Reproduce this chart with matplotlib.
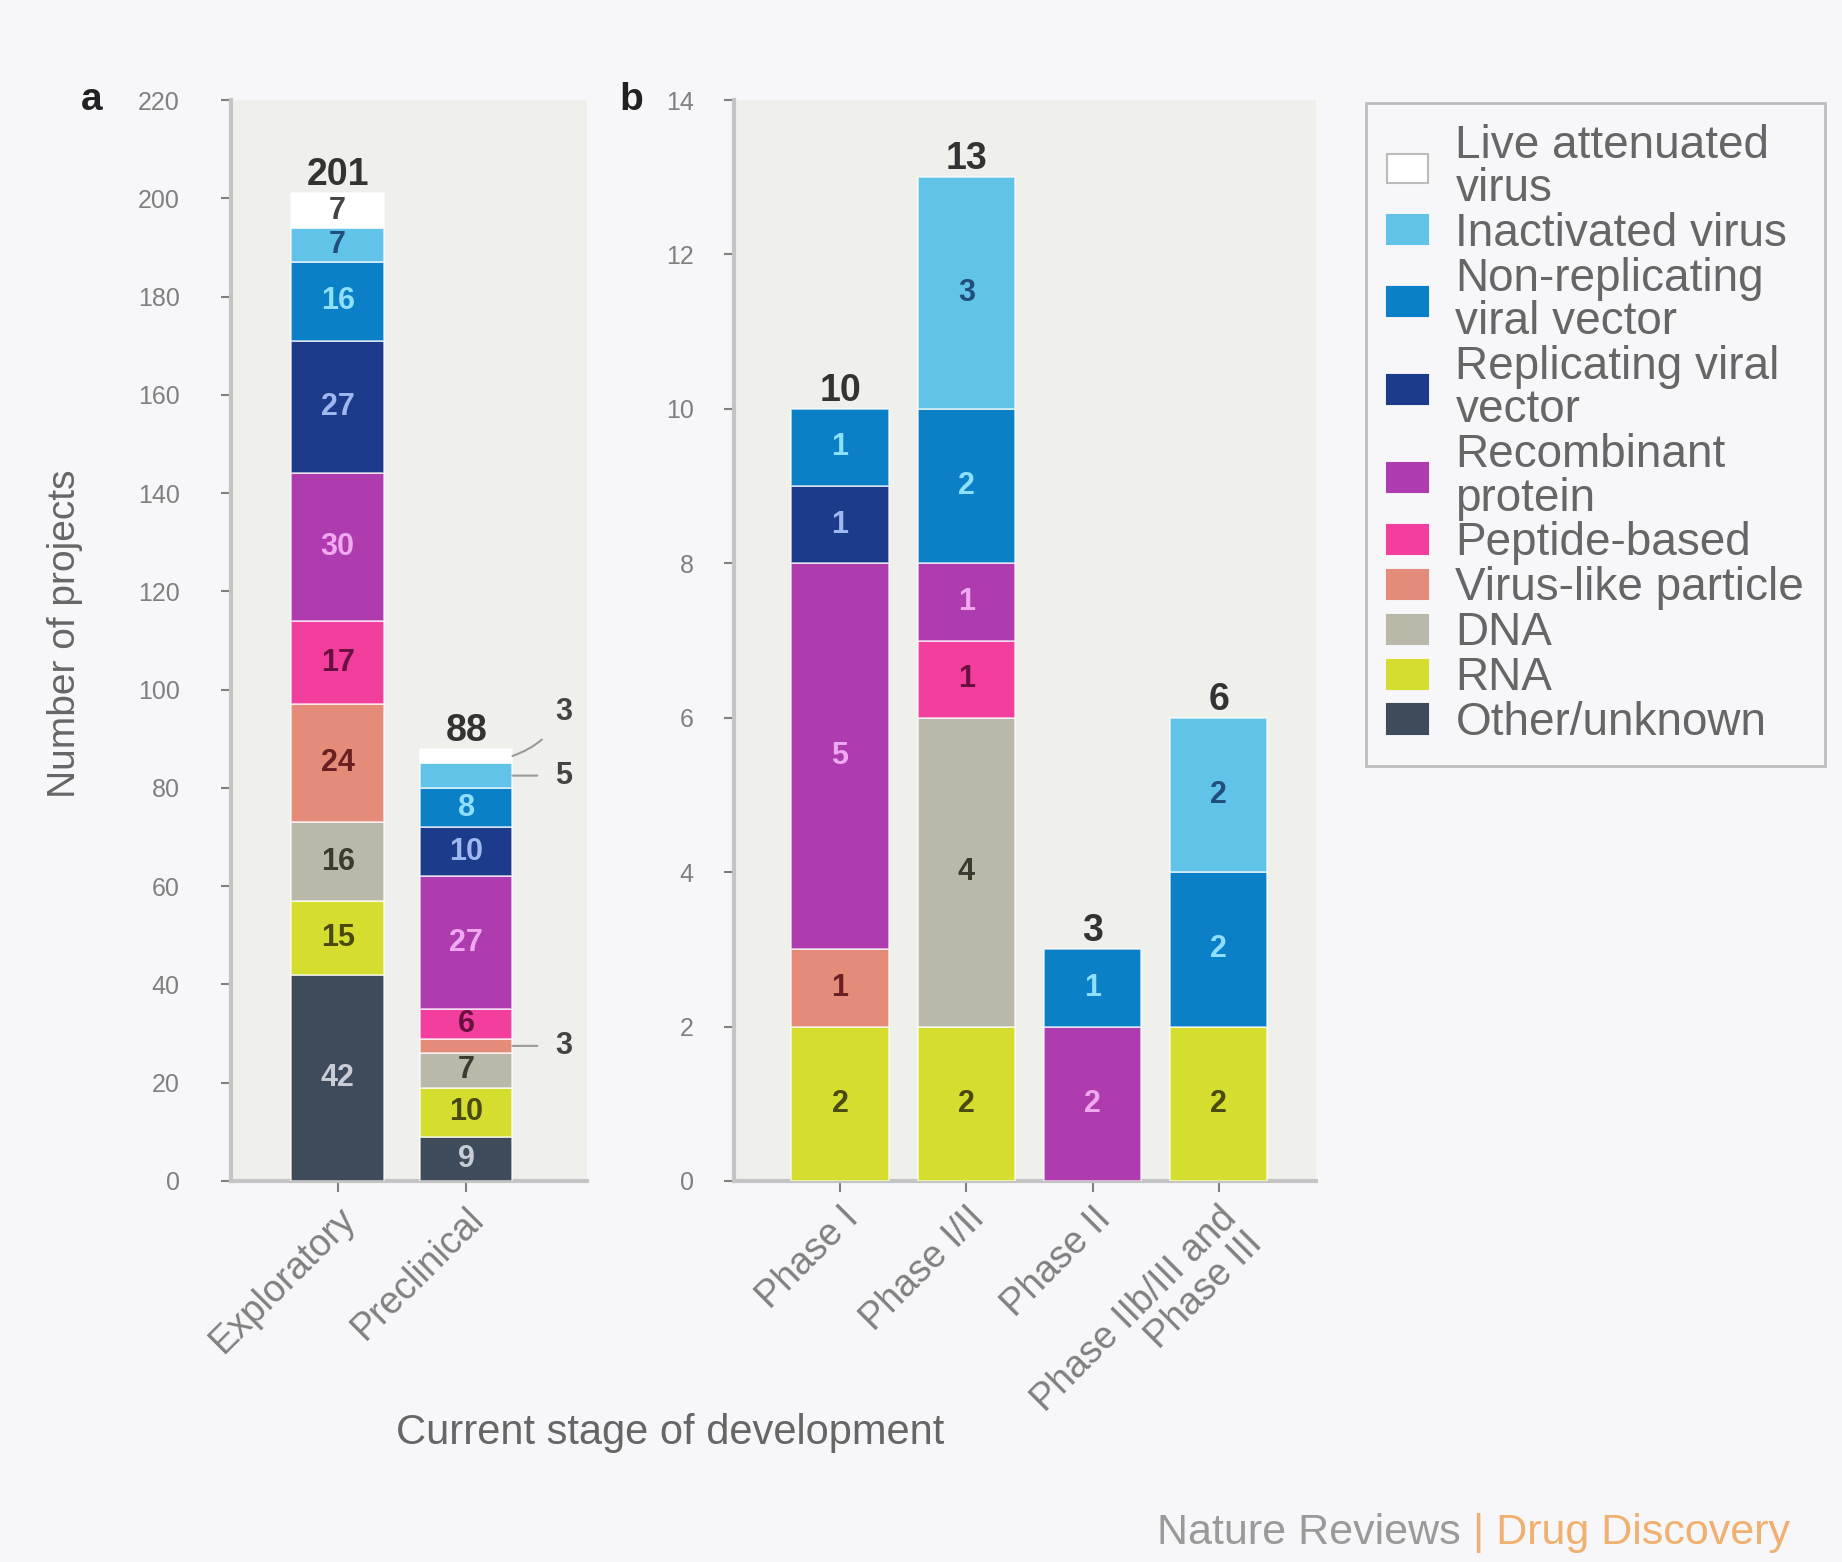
import matplotlib
matplotlib.use("Agg")
import matplotlib.pyplot as plt
from matplotlib.patches import Patch
import numpy as np

plt.rcParams['font.family'] = ['Liberation Sans', 'DejaVu Sans']

# ---------------- data ----------------
categories = ["Live attenuated\nvirus", "Inactivated virus", "Non-replicating\nviral vector",
              "Replicating viral\nvector", "Recombinant\nprotein", "Peptide-based",
              "Virus-like particle", "DNA", "RNA", "Other/unknown"]
# stacking order bottom -> top
stack_order = ["Other/unknown", "RNA", "DNA", "Virus-like particle", "Peptide-based",
               "Recombinant\nprotein", "Replicating viral\nvector", "Non-replicating\nviral vector",
               "Inactivated virus", "Live attenuated\nvirus"]

stages_a = ["Exploratory", "Preclinical"]
# values listed in stack_order (bottom -> top)
exploratory = [42, 15, 16, 24, 17, 30, 27, 16, 7, 7]
preclinical = [9, 10, 7, 3, 6, 27, 10, 8, 5, 3]

stages_b = ["Phase I", "Phase I/II", "Phase II", "Phase IIb/III and\nPhase III"]
phase1 = [0, 2, 0, 1, 0, 5, 1, 1, 0, 0]
phase12 = [0, 2, 4, 0, 1, 1, 0, 2, 3, 0]
phase2 = [0, 0, 0, 0, 0, 2, 0, 1, 0, 0]
phase3 = [0, 2, 0, 0, 0, 0, 0, 2, 2, 0]

yticks_a = list(range(0, 221, 20))
yticks_b = list(range(0, 15, 2))

# ---------------- style ----------------
colors = {
    "Live attenuated\nvirus": "#ffffff",
    "Inactivated virus": "#62c3e9",
    "Non-replicating\nviral vector": "#0b80c6",
    "Replicating viral\nvector": "#1d3b8b",
    "Recombinant\nprotein": "#ae3cae",
    "Peptide-based": "#f23e9c",
    "Virus-like particle": "#e48b7a",
    "DNA": "#bab8a8",
    "RNA": "#d5de2e",
    "Other/unknown": "#3e4b5b",
}
textcolors = {
    "Live attenuated\nvirus": "#444444",
    "Inactivated virus": "#1f4f7a",
    "Non-replicating\nviral vector": "#8fe0ff",
    "Replicating viral\nvector": "#9fb8f0",
    "Recombinant\nprotein": "#f0a8f0",
    "Peptide-based": "#6a1040",
    "Virus-like particle": "#6a2020",
    "DNA": "#3a3a30",
    "RNA": "#4a4a10",
    "Other/unknown": "#c8ccd4",
}

fig_bg = "#f7f6f9"
ax_bg = "#efefeb"
tick_col = "#808080"
spine_col = "#c4c4c4"

fig = plt.figure(figsize=(18.42, 15.62), dpi=100, facecolor=fig_bg)

ax_a = fig.add_axes([231/1842, 1-1181/1562, (587-231)/1842, (1181-100)/1562], facecolor=ax_bg)
ax_b = fig.add_axes([734/1842, 1-1181/1562, (1316-734)/1842, (1181-100)/1562], facecolor=ax_bg)


def style_axis(ax, yticks, ymax, ypad):
    ax.set_ylim(0, ymax)
    ax.set_yticks(yticks)
    for s in ["top", "right"]:
        ax.spines[s].set_visible(False)
    for s in ["left", "bottom"]:
        ax.spines[s].set_color(spine_col)
        ax.spines[s].set_linewidth(3)
    ax.tick_params(axis='y', colors=tick_col, labelsize=18, length=7, width=1.5, pad=ypad)
    ax.tick_params(axis='x', colors=tick_col, labelsize=27, length=8, width=1.5, pad=6)


def draw_stack(ax, xs, series_list, width, outside=()):
    for i, vals in enumerate(series_list):
        bottom = 0
        for j, v in enumerate(vals):
            cat = stack_order[j]
            if v > 0:
                ax.bar(xs[i], v, width, bottom=bottom, color=colors[cat],
                       edgecolor=(1, 1, 1, 0.7), linewidth=1.2, zorder=3)
                if (i, j) not in outside:
                    ax.text(xs[i], bottom + v/2, str(v), ha='center', va='center',
                            fontsize=22, fontweight='bold', color=textcolors[cat], zorder=4)
            bottom += v
        ax.text(xs[i], bottom, str(sum(vals)), ha='center', va='bottom', fontsize=27,
                fontweight='bold', color="#333333", zorder=4)


# panel a
xa = np.arange(len(stages_a))
outside_a = {(1, 3), (1, 8), (1, 9)}
draw_stack(ax_a, xa, [exploratory, preclinical], 0.72, outside=outside_a)
ax_a.set_xlim(-0.83, 1.94)
style_axis(ax_a, yticks_a, 220, 30)
ax_a.set_xticks(xa)
ax_a.set_xticklabels(stages_a, rotation=45, ha='right', rotation_mode='anchor')

# outside labels for preclinical
cum = np.cumsum([0] + preclinical)
bar_right = xa[1] + 0.36
for j, ytxt in [(9, 95.5), (8, 82.5), (3, 27.5)]:
    ymid = (cum[j] + cum[j+1]) / 2
    ax_a.annotate(str(preclinical[j]), xy=(bar_right, ymid), xytext=(1.76, ytxt),
                  ha='center', va='center', fontsize=22, fontweight='bold', color="#444444",
                  arrowprops=dict(arrowstyle='-', color="#9a9a9a", lw=1.5,
                                  shrinkA=11, shrinkB=0,
                                  connectionstyle="arc3,rad=-0.2" if j == 9 else "arc3,rad=0"),
                  zorder=5, annotation_clip=False)

# panel b
xb = np.arange(len(stages_b))
draw_stack(ax_b, xb, [phase1, phase12, phase2, phase3], 0.77)
ax_b.set_xlim(-0.84, 3.77)
style_axis(ax_b, yticks_b, 14, 22)
ax_b.set_xticks(xb)
ax_b.set_xticklabels(stages_b, rotation=45, ha='right', rotation_mode='anchor')
for lbl in ax_b.get_xticklabels():
    lbl.set_linespacing(1.0)

# panel letters
fig.text(92/1842, 1-100/1562, "a", fontsize=28, fontweight='bold', color="#222222", ha='center', va='center')
fig.text(631/1842, 1-100/1562, "b", fontsize=28, fontweight='bold', color="#222222", ha='center', va='center')

# axis labels
fig.text(65/1842, 1-634/1562, "Number of projects", rotation=90, fontsize=28, color="#666666",
         ha='center', va='center')
fig.text(670/1842, 1-1433/1562, "Current stage of development", fontsize=30, color="#666666",
         ha='center', va='center')

# legend
handles = [Patch(facecolor=colors[c], edgecolor="#bbbbbb" if c.startswith("Live") else colors[c],
                 linewidth=1.5) for c in categories]
leg = fig.legend(handles, categories, loc='upper left', bbox_to_anchor=(1366/1842, 1-103/1562),
                 fontsize=33, frameon=True, fancybox=False, edgecolor="#bdbdbd",
                 facecolor=fig_bg, framealpha=1, handlelength=0.9, handleheight=0.6,
                 handletextpad=0.6, labelspacing=0.02, borderpad=0.45, borderaxespad=0)
leg.get_frame().set_linewidth(2)
for t in leg.get_texts():
    t.set_color("#666666")
    t.set_linespacing(0.98)

# footer
t1 = fig.text(1157/1842, 1-1533/1562, "Nature Reviews ", fontsize=31, color="#9a9a9a",
              ha='left', va='center')
fig.canvas.draw()
bb = t1.get_window_extent()
fig.text(bb.x1/1842, 1-1533/1562, "| Drug Discovery", fontsize=31, color="#f0b070",
         ha='left', va='center')

fig.savefig("out.png", dpi=100, facecolor=fig_bg)
